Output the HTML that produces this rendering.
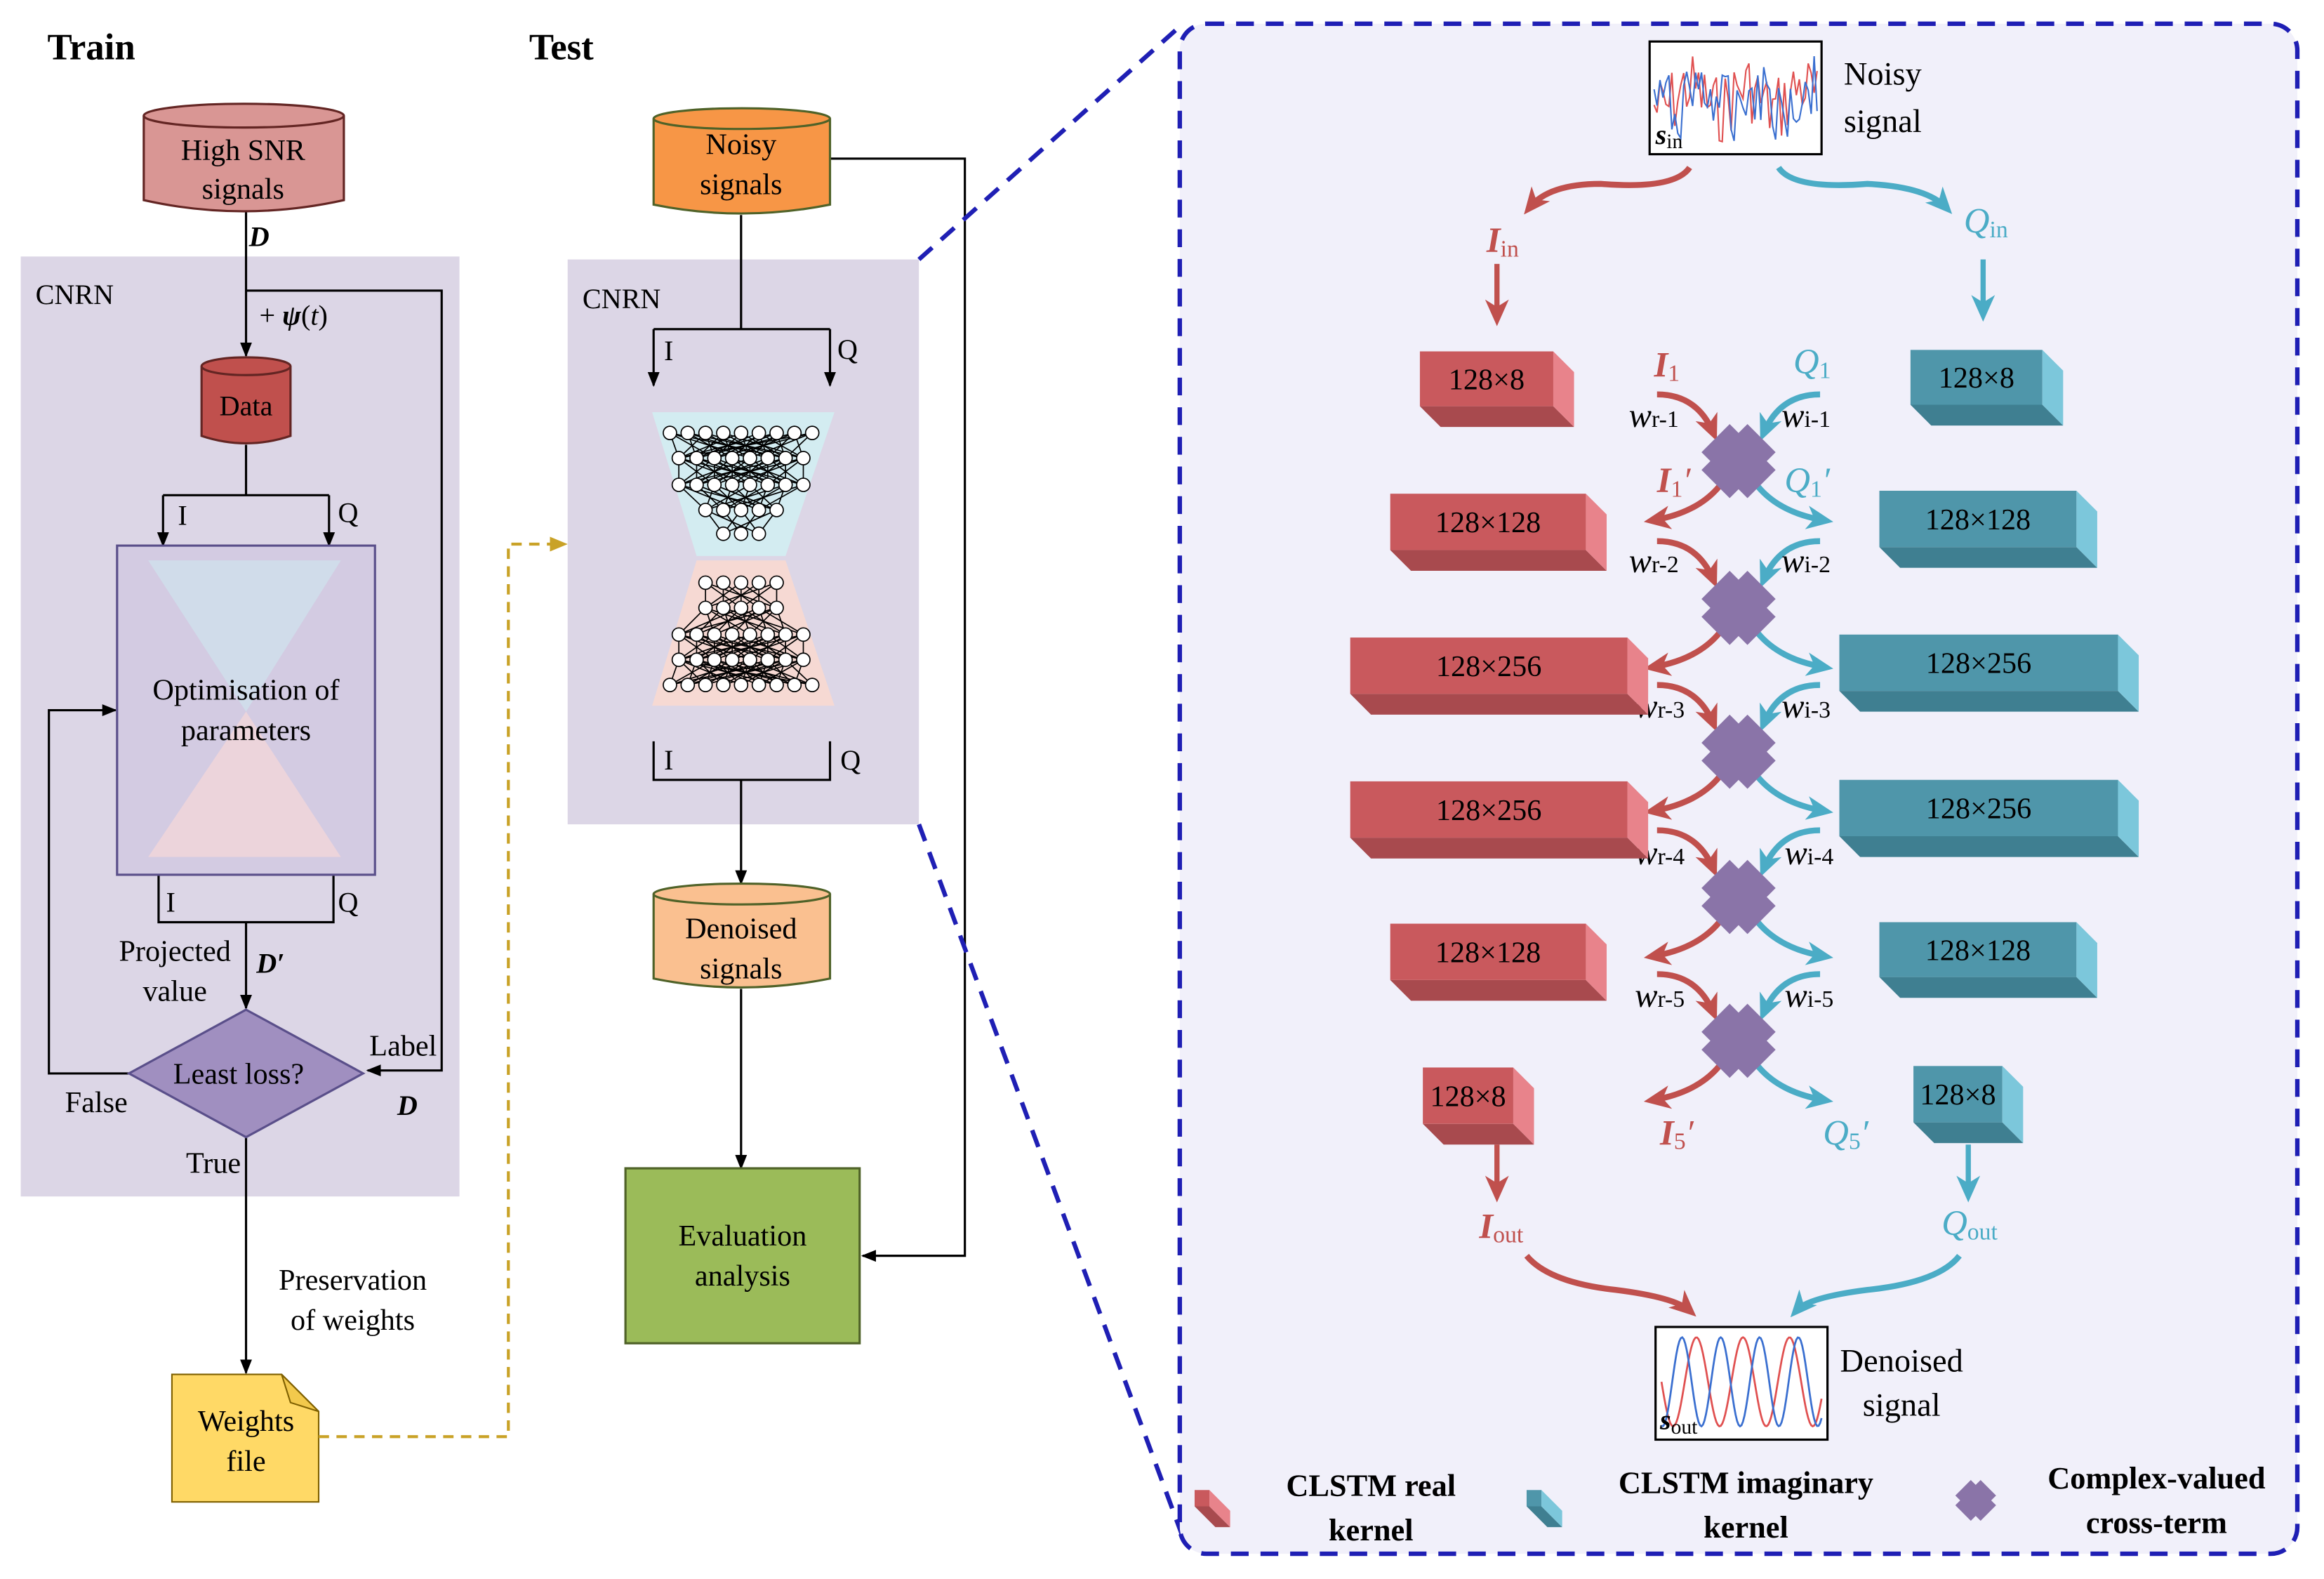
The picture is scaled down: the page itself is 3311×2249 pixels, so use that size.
<!DOCTYPE html>
<html><head><meta charset="utf-8"><style>
html,body{margin:0;padding:0;background:#fff;}
svg{display:block;}
text{font-family:"Liberation Serif",serif;}
</style></head><body>
<svg id="s" width="3311" height="2249" viewBox="0 0 1568 1065" preserveAspectRatio="none" xmlns="http://www.w3.org/2000/svg">
<defs>
<marker id="ab" markerWidth="10" markerHeight="10" refX="9" refY="5" orient="auto" markerUnits="userSpaceOnUse"><path d="M0,1 L10,5 L0,9 z" fill="#000"/></marker>
<marker id="ao" markerWidth="12" markerHeight="12" refX="10" refY="6" orient="auto" markerUnits="userSpaceOnUse"><path d="M0,1 L12,6 L0,11 z" fill="#c9a227"/></marker>
<marker id="ar" markerWidth="18" markerHeight="18" refX="12" refY="9" orient="auto" markerUnits="userSpaceOnUse"><path d="M0,1 L18,9 L0,17 L5,9 z" fill="#c0504d"/></marker>
<marker id="abl" markerWidth="18" markerHeight="18" refX="12" refY="9" orient="auto" markerUnits="userSpaceOnUse"><path d="M0,1 L18,9 L0,17 L5,9 z" fill="#4bacc6"/></marker>
</defs>
<rect width="1568" height="1065" fill="#fff"/>
<text x="32" y="40" font-size="25" font-weight="bold">Train</text>
<text x="357" y="40" font-size="25" font-weight="bold">Test</text>

<!-- LEFT PANEL -->
<rect x="14" y="173" width="296" height="634" fill="#dcd6e6"/>
<text x="24" y="205" font-size="19">CNRN</text>
<g stroke="#000" stroke-width="1.5" fill="none">
<path d="M166,143 V240" marker-end="url(#ab)"/>
<path d="M166,196 H298 V722 H248" marker-end="url(#ab)"/>
<path d="M166,300 V334 M110,334 H222"/>
<path d="M110,334 V368" marker-end="url(#ab)"/>
<path d="M222,334 V368" marker-end="url(#ab)"/>
<path d="M107,590 V622 H225 V590"/>
<path d="M166,622 V680" marker-end="url(#ab)"/>
<path d="M88,724 H33 V479 H78" marker-end="url(#ab)"/>
<path d="M166,767 V926" marker-end="url(#ab)"/>
</g>
<path d="M97,78 V135 Q164,150 232,135 V78" fill="#d99694" stroke="#632523" stroke-width="1.5"/>
<ellipse cx="164.5" cy="78" rx="67.5" ry="8" fill="#d99694" stroke="#632523" stroke-width="1.5"/>
<text x="164" y="108" font-size="20" text-anchor="middle">High SNR</text>
<text x="164" y="134" font-size="20" text-anchor="middle">signals</text>
<text x="168" y="166" font-size="19" font-weight="bold" font-style="italic">D</text>
<text x="175" y="219" font-size="19">+ <tspan font-weight="bold" font-style="italic">ψ</tspan>(<tspan font-style="italic">t</tspan>)</text>
<path d="M136,247 V294 Q166,304 196,294 V247" fill="#c0504d" stroke="#632523" stroke-width="1.5"/>
<ellipse cx="166" cy="247" rx="30" ry="6" fill="#c0504d" stroke="#632523" stroke-width="1.5"/>
<text x="166" y="280" font-size="19" text-anchor="middle">Data</text>
<text x="120" y="354" font-size="19">I</text><text x="228" y="352" font-size="19">Q</text>
<rect x="79" y="368" width="174" height="222" fill="#d3cbe2" stroke="#5a4f8a" stroke-width="1.5"/>
<path d="M100,378 H230 L166,480 z" fill="#cfe0ec" opacity="0.8"/>
<path d="M166,480 L230,578 H100 z" fill="#f2d6da" opacity="0.8"/>
<text x="166" y="472" font-size="20" text-anchor="middle">Optimisation of</text>
<text x="166" y="499" font-size="20" text-anchor="middle">parameters</text>
<text x="112" y="615" font-size="19">I</text><text x="228" y="615" font-size="19">Q</text>
<text x="118" y="648" font-size="20" text-anchor="middle">Projected</text>
<text x="118" y="675" font-size="20" text-anchor="middle">value</text>
<text x="173" y="656" font-size="19" font-weight="bold" font-style="italic">D′</text>
<path d="M166,681 L245,724 L166,767 L87,724 z" fill="#a08fc0" stroke="#5a4f8a" stroke-width="1.5"/>
<text x="161" y="731" font-size="20" text-anchor="middle">Least loss?</text>
<text x="272" y="712" font-size="20" text-anchor="middle">Label</text>
<text x="268" y="752" font-size="19" font-weight="bold" font-style="italic">D</text>
<text x="65" y="750" font-size="20" text-anchor="middle">False</text>
<text x="144" y="791" font-size="20" text-anchor="middle">True</text>
<text x="238" y="870" font-size="20" text-anchor="middle">Preservation</text>
<text x="238" y="897" font-size="20" text-anchor="middle">of weights</text>
<path d="M116,927 H190 L215,952 V1013 H116 z" fill="#ffd966" stroke="#7f6000" stroke-width="1"/>
<path d="M190,927 L196,946 L215,952 z" fill="#f2c94c" stroke="#7f6000" stroke-width="1"/>
<text x="166" y="965" font-size="20" text-anchor="middle">Weights</text>
<text x="166" y="992" font-size="20" text-anchor="middle">file</text>
<path d="M215,969 H343 V367 H381" fill="none" stroke="#c9a227" stroke-width="2" stroke-dasharray="7,5" marker-end="url(#ao)"/>

<!-- TEST -->
<rect x="383" y="175" width="237" height="381" fill="#dcd6e6"/>
<text x="393" y="208" font-size="19">CNRN</text>
<g stroke="#000" stroke-width="1.5" fill="none">
<path d="M560,107 H651 V847 H582" marker-end="url(#ab)"/>
<path d="M500,145 V222 M441,222 H560"/>
<path d="M441,222 V260" marker-end="url(#ab)"/>
<path d="M560,222 V260" marker-end="url(#ab)"/>
<path d="M441,500 V526 H560 V500"/>
<path d="M500,526 V596" marker-end="url(#ab)"/>
<path d="M500,667 V788" marker-end="url(#ab)"/>
</g>
<path d="M441,80 V138 Q500,150 560,138 V80" fill="#f79646" stroke="#4f6228" stroke-width="1.5"/>
<ellipse cx="500.5" cy="80" rx="59.5" ry="7" fill="#f79646" stroke="#4f6228" stroke-width="1.5"/>
<text x="500" y="104" font-size="20" text-anchor="middle">Noisy</text>
<text x="500" y="131" font-size="20" text-anchor="middle">signals</text>
<text x="448" y="243" font-size="19">I</text><text x="565" y="242" font-size="19">Q</text>
<path d="M440,278 H563 L530,375 H470 z" fill="#d3ecf1"/>
<path d="M470,378 H530 L563,476 H440 z" fill="#f6d9d3"/>
<g id="nn" stroke="#000" stroke-width="0.8" fill="#fff"></g>
<text x="448" y="519" font-size="19">I</text><text x="567" y="519" font-size="19">Q</text>
<path d="M441,603 V660 Q500,672 560,660 V603" fill="#fac090" stroke="#4f6228" stroke-width="1.5"/>
<ellipse cx="500.5" cy="603" rx="59.5" ry="7" fill="#fac090" stroke="#4f6228" stroke-width="1.5"/>
<text x="500" y="633" font-size="20" text-anchor="middle">Denoised</text>
<text x="500" y="660" font-size="20" text-anchor="middle">signals</text>
<rect x="422" y="788" width="158" height="118" fill="#9bbb59" stroke="#4f6228" stroke-width="1.5"/>
<text x="501" y="840" font-size="20" text-anchor="middle">Evaluation</text>
<text x="501" y="867" font-size="20" text-anchor="middle">analysis</text>

<!-- RIGHT PANEL -->
<path d="M620,175 L797,17 M620,556 L800,1042" stroke="#1f1fb4" stroke-width="3" stroke-dasharray="12,8" fill="none"/>
<rect x="796" y="16" width="754" height="1032" rx="18" fill="#f1f0fa" stroke="#1f1fb4" stroke-width="3" stroke-dasharray="12,8"/>
<g id="rp"></g>
<rect x="1113" y="28" width="116" height="76" fill="#fff" stroke="#000" stroke-width="1.5"/>
<g id="noise" fill="none" stroke-width="1"></g>
<text x="1117" y="97" font-size="19" font-weight="bold" font-style="italic">s<tspan font-size="14" font-weight="normal" font-style="normal" dy="3">in</tspan></text>
<text x="1244" y="57" font-size="22">Noisy</text>
<text x="1244" y="89" font-size="22">signal</text>
<rect x="1117" y="895" width="116" height="76" fill="#fff" stroke="#000" stroke-width="1.5"/>
<g id="sine" fill="none" stroke-width="1.3"></g>
<text x="1120" y="964" font-size="19" font-weight="bold" font-style="italic">s<tspan font-size="14" font-weight="normal" font-style="normal" dy="3">out</tspan></text>
<text x="1283" y="925" font-size="22" text-anchor="middle">Denoised</text>
<text x="1283" y="955" font-size="22" text-anchor="middle">signal</text>

<g font-size="24" fill="#c0504d" font-style="italic" font-weight="bold">
<text x="1003" y="170">I<tspan font-size="16" font-weight="normal" font-style="normal" dy="3">in</tspan></text>
<text x="1116" y="254">I<tspan font-size="16" font-weight="normal" font-style="normal" dy="3">1</tspan></text>
<text x="1118" y="332">I<tspan font-size="16" font-weight="normal" font-style="normal" dy="3">1</tspan><tspan dy="-3" font-weight="normal">′</tspan></text>
<text x="1120" y="772">I<tspan font-size="16" font-weight="normal" font-style="normal" dy="3">5</tspan><tspan dy="-3" font-weight="normal">′</tspan></text>
<text x="998" y="835">I<tspan font-size="16" font-weight="normal" font-style="normal" dy="3">out</tspan></text>
</g>
<g font-size="24" fill="#4bacc6" font-style="italic">
<text x="1325" y="157">Q<tspan font-size="16" font-style="normal" dy="3">in</tspan></text>
<text x="1210" y="252">Q<tspan font-size="16" font-style="normal" dy="3">1</tspan></text>
<text x="1204" y="332">Q<tspan font-size="16" font-style="normal" dy="3">1</tspan><tspan dy="-3">′</tspan></text>
<text x="1230" y="772">Q<tspan font-size="16" font-style="normal" dy="3">5</tspan><tspan dy="-3">′</tspan></text>
<text x="1310" y="833">Q<tspan font-size="16" font-style="normal" dy="3">out</tspan></text>
</g>
<g font-size="23" fill="#000">
<text x="1099" y="288" font-style="italic">w<tspan font-size="16" font-style="normal">r-1</tspan></text>
<text x="1202" y="288" font-style="italic">w<tspan font-size="16" font-style="normal">i-1</tspan></text>
<text x="1099" y="386" font-style="italic">w<tspan font-size="16" font-style="normal">r-2</tspan></text>
<text x="1202" y="386" font-style="italic">w<tspan font-size="16" font-style="normal">i-2</tspan></text>
<text x="1103" y="484" font-style="italic">w<tspan font-size="16" font-style="normal">r-3</tspan></text>
<text x="1202" y="484" font-style="italic">w<tspan font-size="16" font-style="normal">i-3</tspan></text>
<text x="1103" y="583" font-style="italic">w<tspan font-size="16" font-style="normal">r-4</tspan></text>
<text x="1204" y="583" font-style="italic">w<tspan font-size="16" font-style="normal">i-4</tspan></text>
<text x="1103" y="679" font-style="italic">w<tspan font-size="16" font-style="normal">r-5</tspan></text>
<text x="1204" y="679" font-style="italic">w<tspan font-size="16" font-style="normal">i-5</tspan></text>
</g>
<g id="blocks"></g>
<g font-size="21" font-weight="bold" text-anchor="middle">
<text x="925" y="1009">CLSTM real</text><text x="925" y="1039">kernel</text>
<text x="1178" y="1007">CLSTM imaginary</text><text x="1178" y="1037">kernel</text>
<text x="1455" y="1004">Complex-valued</text><text x="1455" y="1034">cross-term</text>
</g>
</svg>
<script>
var NS="http://www.w3.org/2000/svg";
function el(p,t,a){var e=document.createElementNS(NS,t);for(var k in a)e.setAttribute(k,a[k]);p.appendChild(e);return e;}
var nn=document.getElementById('nn');
var rows=[[292,9],[309,8],[327,8],[344,5],[360,3],[393,5],[410,5],[428,8],[445,8],[462,9]];
var pts=rows.map(function(r){var n=r[1],w=(n-1)*12,a=[];for(var i=0;i<n;i++)a.push([500-w/2+i*12,r[0]]);return a;});
for(var l=0;l<pts.length-1;l++){if(l==4)continue;pts[l].forEach(function(p,i){pts[l+1].forEach(function(q,j){if((i+j)%2==0)el(nn,'line',{x1:p[0],y1:p[1],x2:q[0],y2:q[1]});});});}
pts.forEach(function(a){a.forEach(function(p){el(nn,'circle',{cx:p[0],cy:p[1],r:4.5});});});
var ng=document.getElementById('noise');
function noisy(col,seed){var d='',s=seed;for(var i=0;i<=110;i+=2){s=(s*9301+49297)%233280;var y=66+(s/233280-0.5)*48+8*Math.sin(i/6+seed);d+=(i?'L':'M')+(1116+i)+','+y.toFixed(1);}el(ng,'path',{d:d,stroke:col});}
noisy('#e05050',7);noisy('#3a6fd0',31);
var sg=document.getElementById('sine');
function sine(col,ph,f){var d='';for(var i=0;i<=108;i++){var y=932+30*Math.sin(i*f+ph);d+=(i?'L':'M')+(1121+i)+','+y.toFixed(1);}el(sg,'path',{d:d,stroke:col});}
sine('#e05050',0,0.2);sine('#3a6fd0',1.4,0.24);
var rp=document.getElementById('rp');
function cur(d,c,w){el(rp,'path',{d:d,fill:'none',stroke:c,'stroke-width':w||4,'marker-end':'url(#'+(c=='#c0504d'?'ar':'abl')+')'});}
var R='#c0504d',B='#4bacc6';
cur('M1140,113 Q1130,128 1080,124 Q1045,124 1032,140',R);
cur('M1200,113 Q1210,128 1260,124 Q1300,126 1313,140',B);
cur('M1010,178 V214',R,3.5);cur('M1338,175 V211',B,3.5);
var cy=[311,410,507,605,702];
cy.forEach(function(y){
 cur('M1118,'+(y-45)+' Q1145,'+(y-45)+' 1156,'+(y-19),R);
 cur('M1228,'+(y-45)+' Q1201,'+(y-45)+' 1190,'+(y-19),B);
 cur('M1160,'+(y+17)+' Q1145,'+(y+35)+' 1115,'+(y+40),R);
 cur('M1186,'+(y+17)+' Q1201,'+(y+35)+' 1231,'+(y+40),B);
});
cur('M1010,772 V805',R,3.5);cur('M1328,772 V805',B,3.5);
cur('M1030,847 Q1045,865 1090,870 Q1130,875 1140,884',R);
cur('M1322,847 Q1308,865 1260,870 Q1220,875 1212,884',B);
function cross(g,x,y,s){[[-1,-1],[1,-1],[-1,1],[1,1]].forEach(function(o){var cx=x+o[0]*6*s,cyy=y+o[1]*6*s,h=19*s;el(g,'path',{d:'M'+cx+','+(cyy-h)+'L'+(cx+h)+','+cyy+'L'+cx+','+(cyy+h)+'L'+(cx-h)+','+cyy+'z',fill:'#8a74a8'});});}
var bl=document.getElementById('blocks');
cy.forEach(function(y){cross(bl,1173,y,1);});
cross(bl,1333,1012,0.55);
function box(x0,x1,y0,y1,red,label){var d=14,f=red?'#c9595d':'#4f96aa',s=red?'#e8838b':'#7cc7db',b=red?'#a84a4e':'#3f7f91';
 el(bl,'path',{d:'M'+(x0)+','+(y1-d)+'L'+(x1-d)+','+(y1-d)+'L'+x1+','+y1+'L'+(x0+d)+','+y1+'z',fill:b});
 el(bl,'rect',{x:x0,y:y0,width:x1-d-x0,height:y1-d-y0,fill:f});
 el(bl,'path',{d:'M'+(x1-d)+','+y0+'L'+x1+','+(y0+d)+'L'+x1+','+y1+'L'+(x1-d)+','+(y1-d)+'z',fill:s});
 if(label){var t=el(bl,'text',{x:(x0+x1-d)/2,y:(y0+y1-d)/2+7,'font-size':20,'text-anchor':'middle'});t.textContent=label;}}
[['128×8',958,1062,237,288,1289,1392,236,287],['128×128',938,1084,333,385,1268,1415,331,383],['128×256',911,1112,430,482,1241,1443,428,480],['128×256',911,1112,527,579,1241,1443,526,578],['128×128',938,1084,623,675,1268,1415,622,673],['128×8',960,1035,720,772,1291,1365,719,771]].forEach(function(r){box(r[1],r[2],r[3],r[4],true,r[0]);box(r[5],r[6],r[7],r[8],false,r[0]);});
box(806,830,1005,1030,true,'');box(1030,1054,1005,1030,false,'');
</script>
</body></html>
